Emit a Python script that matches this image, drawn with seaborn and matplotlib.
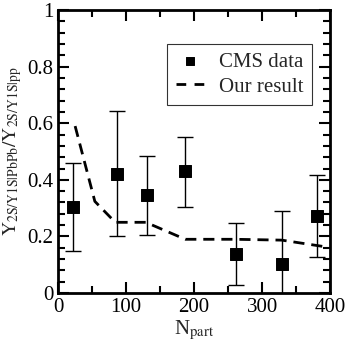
import numpy as np
import pandas as pd
import seaborn as sns
import matplotlib.pyplot as plt
from matplotlib.ticker import MultipleLocator

# CMS data points
npart = [22, 86, 130, 187, 261, 329, 381]
ratio = [0.305, 0.42, 0.345, 0.43, 0.138, 0.102, 0.271]
err_hi = [0.459, 0.642, 0.485, 0.553, 0.246, 0.291, 0.418]
err_lo = [0.150, 0.200, 0.206, 0.305, 0.030, -0.09, 0.126]

# model curve
model_x = [25, 54, 84, 129, 187, 260, 329, 397]
model_y = [0.59, 0.324, 0.25, 0.25, 0.19, 0.19, 0.187, 0.162]

sns.set_style("ticks")
plt.rcParams['font.family'] = ['Liberation Serif', 'DejaVu Serif']
plt.rcParams['mathtext.fontset'] = 'stix'

fig = plt.figure(figsize=(3.46, 3.46), dpi=100)
ax = fig.add_axes([0.168, 0.153, 0.786, 0.818])

df = pd.DataFrame({"npart": npart, "ratio": ratio})
mdf = pd.DataFrame({"x": model_x, "y": model_y})

yerr = [np.array(ratio) - np.array(err_lo), np.array(err_hi) - np.array(ratio)]
ax.errorbar(npart, ratio, yerr=yerr, fmt='none', ecolor='black',
            elinewidth=1.0, capsize=6, capthick=1.0, zorder=2)
sns.scatterplot(data=df, x="npart", y="ratio", marker='s', s=75,
                color='black', edgecolor='black', ax=ax, zorder=3,
                label='CMS data')
sns.lineplot(data=mdf, x="x", y="y", color='black', linewidth=2,
             ax=ax, label='Our result', zorder=2)
ax.lines[-1].set_dashes((4, 2.5))

ax.set_xlim(0, 400)
ax.set_ylim(0, 1)
ax.xaxis.set_major_locator(MultipleLocator(100))
ax.xaxis.set_minor_locator(MultipleLocator(50))
ax.yaxis.set_major_locator(MultipleLocator(0.2))
ax.yaxis.set_minor_locator(MultipleLocator(0.04))
ax.set_yticks([0, 0.2, 0.4, 0.6, 0.8, 1])
ax.set_yticklabels(['0', '0.2', '0.4', '0.6', '0.8', '1'])
ax.tick_params(which='both', direction='in', top=True, right=True,
               width=1.5, labelsize=15, colors='black')
ax.tick_params(which='major', length=8)
ax.tick_params(which='minor', length=5)
for s in ax.spines.values():
    s.set_linewidth(2)
    s.set_color('black')

ax.set_xlabel(r'N$_{\mathrm{part}}$', fontsize=15, labelpad=1)
ax.set_ylabel(r'$\mathrm{Y}_{\mathrm{2S/Y1S|PbPb}}/\mathrm{Y}_{\mathrm{2S/Y1S|pp}}$',
              fontsize=14, labelpad=2)

leg = ax.legend(loc='upper right', bbox_to_anchor=(0.934, 0.88), fontsize=15,
                frameon=True, fancybox=False, handlelength=1.35,
                borderpad=0.4, labelspacing=0.25, handletextpad=0.75,
                borderaxespad=0, markerscale=0.65)
leg.get_frame().set_edgecolor('black')
leg.get_frame().set_linewidth(0.8)
leg.get_lines()[0].set_dashes((3.5, 3))

fig.savefig("out.png", dpi=100)
